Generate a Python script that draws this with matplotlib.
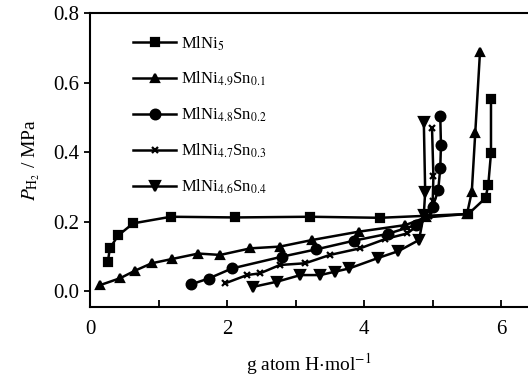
import matplotlib
matplotlib.use("Agg")
import matplotlib.pyplot as plt

plt.rcParams['font.family'] = ['Liberation Serif', 'DejaVu Serif']
plt.rcParams['mathtext.fontset'] = 'stix'

labels = [r'MlNi$_5$', r'MlNi$_{4.9}$Sn$_{0.1}$', r'MlNi$_{4.8}$Sn$_{0.2}$',
          r'MlNi$_{4.7}$Sn$_{0.3}$', r'MlNi$_{4.6}$Sn$_{0.4}$']

x_ni5 = [0.26, 0.29, 0.41, 0.63, 1.18, 2.12, 3.21, 4.23, 5.52, 5.77, 5.81, 5.85, 5.85]
y_ni5 = [0.084, 0.123, 0.16, 0.195, 0.214, 0.212, 0.214, 0.211, 0.222, 0.268, 0.305, 0.397, 0.553]

x_sn1 = [0.146, 0.44, 0.66, 0.9, 1.19, 1.58, 1.9, 2.34, 2.77, 3.24, 3.92, 4.6, 4.9, 5.5, 5.57, 5.62, 5.69]
y_sn1 = [0.017, 0.037, 0.059, 0.08, 0.092, 0.108, 0.104, 0.123, 0.128, 0.147, 0.171, 0.19, 0.212, 0.222, 0.286, 0.454, 0.69]

x_sn2 = [1.47, 1.73, 2.07, 2.8, 3.3, 3.85, 4.35, 4.75, 5.0, 5.08, 5.11, 5.12, 5.11]
y_sn2 = [0.019, 0.036, 0.065, 0.099, 0.12, 0.145, 0.165, 0.19, 0.243, 0.29, 0.354, 0.42, 0.504]

x_sn3 = [1.97, 2.29, 2.48, 2.77, 3.14, 3.5, 3.94, 4.31, 4.63, 4.95, 5.0, 5.01, 4.99]
y_sn3 = [0.022, 0.046, 0.051, 0.075, 0.08, 0.104, 0.123, 0.15, 0.166, 0.215, 0.26, 0.33, 0.469]

x_sn4 = [2.38, 2.73, 3.07, 3.36, 3.58, 3.78, 4.2, 4.5, 4.8, 4.87, 4.89, 4.87]
y_sn4 = [0.012, 0.027, 0.046, 0.046, 0.056, 0.065, 0.095, 0.115, 0.147, 0.22, 0.286, 0.488]

xs = [x_ni5, x_sn1, x_sn2, x_sn3, x_sn4]
ys = [y_ni5, y_sn1, y_sn2, y_sn3, y_sn4]
markers = ['s', '^', 'o', 'x', 'v']
msizes = [5.5, 5.5, 7, 5, 6.5]

fig = plt.figure(figsize=(5.28, 3.78), dpi=100)
ax = fig.add_axes([90/528, 71/378, 1 - 90/528, 294/378])

for x, y, m, ms, lab in zip(xs, ys, markers, msizes, labels):
    ax.plot(x, y, color='black', lw=1.8, marker=m, ms=ms, mew=1.6, label=lab)

ax.set_xlim(0, 6.39)
ax.set_ylim(-0.046, 0.801)
ax.set_xticks([0, 2, 4, 6])
ax.set_xticks([1, 3, 5], minor=True)
ax.set_yticks([0.0, 0.2, 0.4, 0.6, 0.8])
ax.set_yticklabels(['0.0', '0.2', '0.4', '0.6', '0.8'])
ax.tick_params(axis='x', which='both', direction='in', length=5, width=1.3, labelsize=15, pad=9)
ax.tick_params(axis='y', which='both', direction='out', length=4, width=1.3, labelsize=15)
ax.spines['right'].set_visible(False)
for s in ['left', 'bottom', 'top']:
    ax.spines[s].set_linewidth(1.5)

ax.set_xlabel(r'g atom H$\cdot$mol$^{-1}$', fontsize=14, labelpad=9)
ax.set_ylabel(r'$P_{\mathrm{H_2}}$ / MPa', fontsize=14, labelpad=8)

leg = ax.legend(loc='upper left', bbox_to_anchor=(0.07, 0.97), frameon=False,
                fontsize=12, handlelength=2.6, handletextpad=0.3,
                labelspacing=1.05, borderpad=0.25)

fig.savefig('out.png', dpi=100)
